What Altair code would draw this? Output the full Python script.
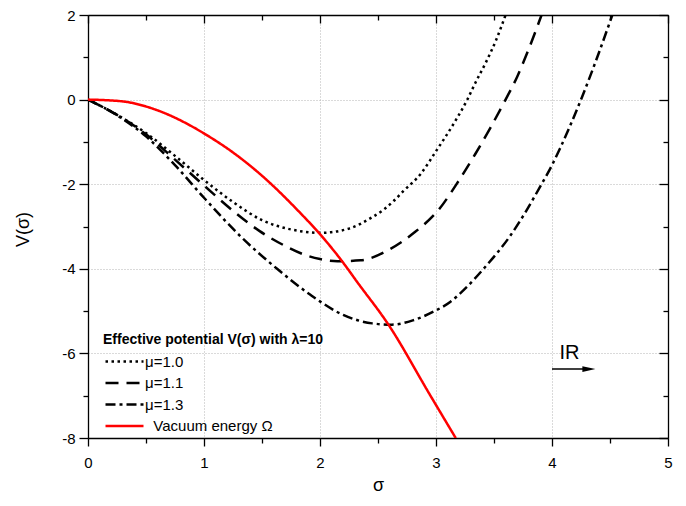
import altair as alt
import pandas as pd

# ---- data ----
sigma_mu10 = [0, 0.25, 0.5, 0.75, 1.0, 1.25, 1.5, 1.75, 1.83, 2.0, 2.25, 2.45, 2.55, 2.63, 2.72, 2.87, 3.0, 3.15, 3.27, 3.34, 3.43, 3.52, 3.60]
v_mu10 = [0, -0.36, -0.79, -1.33, -1.9, -2.42, -2.85, -3.07, -3.11, -3.15, -3.05, -2.78, -2.60, -2.41, -2.16, -1.75, -1.22, -0.58, 0.0, 0.40, 0.88, 1.42, 2.0]

sigma_mu11 = [0, 0.25, 0.5, 0.75, 1.0, 1.25, 1.48, 1.7, 1.89, 2.0, 2.15, 2.35, 2.58, 2.81, 3.03, 3.2, 3.34, 3.47, 3.6, 3.7, 3.79, 3.91]
v_mu11 = [0, -0.36, -0.82, -1.42, -2.03, -2.63, -3.11, -3.46, -3.69, -3.77, -3.82, -3.80, -3.57, -3.15, -2.58, -1.9, -1.28, -0.66, 0.0, 0.54, 1.13, 2.0]

sigma_mu13 = [0, 0.25, 0.5, 0.75, 1.0, 1.34, 1.63, 1.92, 2.2, 2.45, 2.62, 2.8, 2.98, 3.125, 3.24, 3.41, 3.64, 3.91, 4.0, 4.07, 4.25, 4.39, 4.52]
v_mu13 = [0, -0.37, -0.87, -1.55, -2.32, -3.3, -4.0, -4.62, -5.09, -5.29, -5.32, -5.22, -5.01, -4.78, -4.50, -4.0, -3.22, -2.0, -1.55, -1.15, 0.0, 1.0, 2.0]

sigma_vac = [0, 0.29, 0.575, 0.86, 1.0, 1.25, 1.5, 1.83, 1.99, 2.19, 2.32, 2.59, 2.95, 3.17]
v_vac = [0, -0.04, -0.23, -0.58, -0.8, -1.25, -1.8, -2.68, -3.15, -3.82, -4.31, -5.32, -6.99, -8.0]

series_names = ["μ=1.0", "μ=1.1", "μ=1.3", "\u200b\u00a0\u00a0Vacuum energy Ω"]
series_colors = ["#000000", "#000000", "#000000", "#ff0000"]
series_dashes = [[2.5, 3.5], [13, 8], [10, 4, 3, 4], [1, 0]]
series_widths = [2.5, 2.5, 2.5, 1.6]

x_major = [0, 1, 2, 3, 4, 5]
x_minor = [0.5, 1.5, 2.5, 3.5, 4.5]
y_major = [-8, -6, -4, -2, 0, 2]
y_minor = [-7, -5, -3, -1, 1]

arrow_x = [4.0]
arrow_x2 = [4.30]
arrow_y = [-6.37]
head_x = [4.318]
ir_x = [4.15]
ir_y = [-6.13]

W, H = 580, 423

rows = []
for name, xs_, ys_ in zip(series_names, [sigma_mu10, sigma_mu11, sigma_mu13, sigma_vac],
                          [v_mu10, v_mu11, v_mu13, v_vac]):
    for a, b in zip(xs_, ys_):
        rows.append({"sigma": a, "V": b, "series": name})
df = pd.DataFrame(rows)

xs = alt.Scale(domain=[0, 5], nice=False, zero=False)
ys = alt.Scale(domain=[-8, 2], nice=False, zero=False)

common_axis = dict(tickColor="#000", tickWidth=1.3, domainColor="#000", domainWidth=1.3,
                   labelColor="#000", labelFont="Liberation Sans", labelFontSize=15,
                   titleColor="#000", titleFont="Liberation Sans", titleFontSize=18,
                   titleFontWeight="normal")
minus_fix = "replace(datum.label, '\u2212', '-')"

ax1 = alt.Axis(orient="bottom", values=x_major, tickSize=8, labelFlush=False, labelPadding=9,
               grid=True, gridDash=[1, 2], gridColor="#b5b5b5", gridWidth=1, domain=True,
               title="σ", titleY=52, titleBaseline="alphabetic", labelExpr=minus_fix, **common_axis)
ay1 = alt.Axis(orient="left", values=y_major, tickSize=9, labelPadding=4,
               grid=True, gridDash=[1, 2], gridColor="#b5b5b5", gridWidth=1, domain=True,
               title="V(σ)", titleX=-56, titleY=214, labelExpr=minus_fix, **common_axis)

ax2 = alt.Axis(orient="bottom", values=x_minor, tickSize=5, labels=False, domain=False, grid=False, title=None, **common_axis)
ay2 = alt.Axis(orient="left", values=y_minor, tickSize=5, labels=False, domain=False, grid=False, title=None, **common_axis)
ax3 = alt.Axis(orient="bottom", offset=-H, values=x_major, tickSize=8, labels=False, domain=True, grid=False, title=None, **common_axis)
ay3 = alt.Axis(orient="left", offset=-W, values=y_major, tickSize=9, labels=False, domain=True, grid=False, title=None, **common_axis)
ax4 = alt.Axis(orient="bottom", offset=-H, values=x_minor, tickSize=5, labels=False, domain=False, grid=False, title=None, **common_axis)
ay4 = alt.Axis(orient="left", offset=-W, values=y_minor, tickSize=5, labels=False, domain=False, grid=False, title=None, **common_axis)

legend = alt.Legend(orient="none", legendX=15, legendY=318, padding=0,
                    title="Effective potential V(σ) with λ=10", titleFontSize=14, titleLimit=500,
                    titleFontWeight="bold", titleColor="#000", titleFont="Liberation Sans",
                    titlePadding=7, labelFontSize=15, labelColor="#000", labelFont="Liberation Sans",
                    labelLimit=400, labelOffset=27, symbolType="M-1,0L6.6,0", symbolSize=100,
                    rowPadding=5.5, symbolStrokeWidth=2.5)

lines = alt.Chart(df).mark_line(clip=True, interpolate="monotone").encode(
    x=alt.X("sigma:Q", scale=xs, axis=ax1),
    y=alt.Y("V:Q", scale=ys, axis=ay1),
    color=alt.Color("series:N", scale=alt.Scale(domain=series_names, range=series_colors), legend=legend),
    strokeDash=alt.StrokeDash("series:N", scale=alt.Scale(domain=series_names, range=series_dashes), legend=legend),
    strokeWidth=alt.StrokeWidth("series:N", scale=alt.Scale(domain=series_names, range=series_widths), legend=legend),
)

arrow_df = pd.DataFrame({"x": arrow_x, "x2": arrow_x2, "y": arrow_y})
arrow = alt.Chart(arrow_df).mark_rule(color="#000", strokeWidth=1.6).encode(
    x=alt.X("x:Q", scale=xs, axis=ax2), x2="x2:Q",
    y=alt.Y("y:Q", scale=ys, axis=ay2),
)

head_df = pd.DataFrame({"x": head_x, "y": arrow_y})
head = alt.Chart(head_df).mark_point(shape="M-1,-0.45L1,0L-1,0.45Z", size=169, filled=True,
                                     color="#000", opacity=1, strokeWidth=0).encode(
    x=alt.X("x:Q", scale=xs, axis=ax3),
    y=alt.Y("y:Q", scale=ys, axis=ay3),
)

ir_df = pd.DataFrame({"x": ir_x, "y": ir_y, "t": ["IR"]})
ir = alt.Chart(ir_df).mark_text(font="Liberation Sans", fontSize=20, color="#000",
                                align="center", baseline="alphabetic").encode(
    x=alt.X("x:Q", scale=xs, axis=ax4),
    y=alt.Y("y:Q", scale=ys, axis=ay4),
    text="t:N",
)

chart = alt.layer(lines, arrow, head, ir).resolve_axis(x="independent", y="independent").properties(
    width=W, height=H,
    autosize=alt.AutoSizeParams(type="none"),
    padding={"left": 80, "top": 7, "right": 8, "bottom": 60},
).configure_view(stroke=None).configure(font="Liberation Sans")

chart.save("out.html", embed_options={"renderer": "svg", "actions": False})
